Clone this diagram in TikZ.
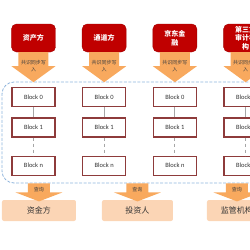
\documentclass[tikz,border=0pt]{standalone}
\usepackage{fontspec}
\setmainfont{Carlito}
\newfontfamily\cjk{Noto Sans CJK SC}
\usetikzlibrary{positioning}
\definecolor{partyred}{HTML}{C00000}
\definecolor{arroworange}{HTML}{F8A95E}
\definecolor{blockedge}{HTML}{8E3B3B}
\definecolor{chainblue}{HTML}{8FB4DC}
\definecolor{userpeach}{HTML}{FBD5B5}

\begin{document}
\begin{tikzpicture}[x=1pt, y=-1pt,
        party/.style={rectangle, draw=partyred!85!black, fill=partyred, rounded corners=5pt, minimum width=44pt, minimum height=28pt, inner sep=0.5pt, align=center, text=white, font=\cjk\bfseries\fontsize{7}{8.6}\selectfont},
        blk/.style={rectangle, draw=blockedge, line width=1.2pt, fill=white, minimum width=43pt, minimum height=19pt, font=\fontsize{6.5}{8}\selectfont, text=black!80},
        user/.style={rectangle, fill=userpeach, rounded corners=2pt, minimum height=21pt, font=\cjk\fontsize{8}{10}\selectfont, text=black!80},
        note/.style={inner sep=0pt, align=center, text=black!75, font=\cjk\fontsize{5}{7.5}\selectfont},
        frame/.style={draw=chainblue, dash pattern=on 3pt off 1.5pt, line width=0.8pt, rounded corners=12pt},
        link/.style={draw=black!35, line width=0.8pt},
        pics/downarrow/.style n args={4}{code={
            \fill[arroworange] (-#1,0) -- (-#1,#2) -- (-#3,#2) -- (0,#4) -- (#3,#2) -- (#1,#2) -- (#1,0) -- cycle;}}
    ]
        \useasboundingbox (0,0) rectangle (250,250);
        \clip (0,0) rectangle (250,250);
        % chain frame
        \node[frame, minimum width=272pt, minimum height=101pt] (chain) at (138,132.5) {};
        % parties writing to the chain
        \node[party] (asset) at (33.5,38) {资产方};
        \node[party] (channel) at (104.2,38) {通道方};
        \node[party] (jd) at (174.9,38) {京东金\\融};
        \node[party] (audit) at (245.6,38) {第三方\\审计机\\构};
        \pic at (asset.south) {downarrow={15}{14}{22}{30}};
        \pic at (channel.south) {downarrow={15}{14}{22}{30}};
        \pic at (jd.south) {downarrow={15}{14}{22}{30}};
        \pic at (audit.south) {downarrow={15}{14}{22}{30}};
        \node[note] at ([yshift=-14pt]asset.south) {共识同步写\\入};
        \node[note] at ([yshift=-14pt]channel.south) {共识同步写\\入};
        \node[note] at ([yshift=-14pt]jd.south) {共识同步写\\入};
        \node[note] at ([yshift=-14pt]audit.south) {共识同步写\\入};
        % blocks
        \node[blk, below=35pt of asset] (a0) {Block 0};
        \node[blk, below=10pt of a0] (a1) {Block 1};
        \node[blk, below=18pt of a1] (an) {Block n};
        \node[blk, below=35pt of channel] (c0) {Block 0};
        \node[blk, below=10pt of c0] (c1) {Block 1};
        \node[blk, below=18pt of c1] (cn) {Block n};
        \node[blk, below=35pt of jd] (j0) {Block 0};
        \node[blk, below=10pt of j0] (j1) {Block 1};
        \node[blk, below=18pt of j1] (jn) {Block n};
        \node[blk, below=35pt of audit] (t0) {Block 0};
        \node[blk, below=10pt of t0] (t1) {Block 1};
        \node[blk, below=18pt of t1] (tn) {Block n};
        \draw[link] (a0) -- (a1);
        \draw[link, dashed] (a1) -- (an);
        \draw[link] (c0) -- (c1);
        \draw[link, dashed] (c1) -- (cn);
        \draw[link] (j0) -- (j1);
        \draw[link, dashed] (j1) -- (jn);
        \draw[link] (t0) -- (t1);
        \draw[link, dashed] (t1) -- (tn);
        % parties querying the chain
        \node[user, minimum width=74pt] (fund) at (39,210.5) {资金方};
        \node[user, minimum width=71pt] (investor) at (137.5,210.5) {投资人};
        \node[user, minimum width=60pt] (regulator) at (237,210.5) {监管机构};
        \pic at (chain.south -| fund) {downarrow={11}{9}{23.5}{18}};
        \pic at (chain.south -| investor) {downarrow={11}{9}{23.5}{18}};
        \pic at (chain.south -| regulator) {downarrow={11}{9}{23.5}{18}};
        \node[note] at ([yshift=-6pt]chain.south -| fund) {查询};
        \node[note] at ([yshift=-6pt]chain.south -| investor) {查询};
        \node[note] at ([yshift=-6pt]chain.south -| regulator) {查询};
    \end{tikzpicture}
\end{document}
